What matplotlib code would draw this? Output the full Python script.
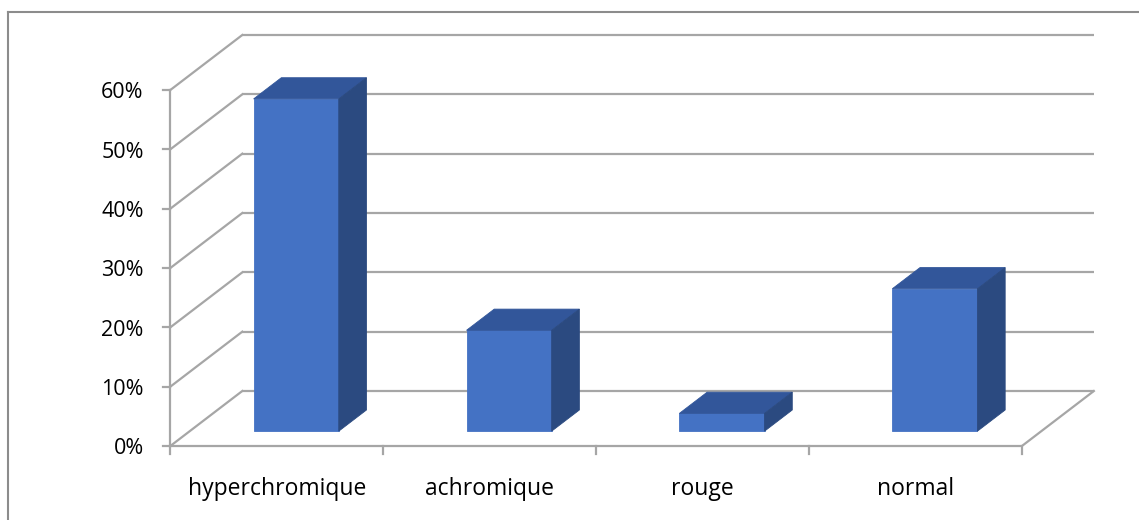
import matplotlib.pyplot as plt
from matplotlib.lines import Line2D

categories = ["hyperchromique", "achromique", "rouge", "normal"]
values = [56, 17, 3, 24]          # percent
y_ticks = [0, 10, 20, 30, 40, 50, 60]

# fake 3d: depth offset of the back wall, in data units
DX, DY = 0.338, 9.27
BAR_W = 0.4
D0, D1 = 0.27, 0.655              # depth span of the bars

GRID = '#a6a6a6'
FRONT, TOP, SIDE = '#4472c4', '#32569a', '#2b4a80'
FONT = 'Open Sans'


def proj(x, y, d):
    return x + d * DX, y + d * DY


fig = plt.figure(figsize=(11.39, 5.2), dpi=100)
ax = fig.add_axes([0, 0, 1, 1])
ax.set_xlim(-0.8, 4.55)
ax.set_ylim(-12.47, 75.17)
ax.axis('off')

n = len(categories)
ymax = y_ticks[-1]

# back wall gridlines + left wall diagonals
for t in y_ticks:
    x0, y0 = proj(0, t, 1)
    x1, y1 = proj(n, t, 1)
    ax.plot([x0, x1], [y0, y1], color=GRID, lw=1.6, solid_capstyle='butt', zorder=1)
    ax.plot([0, x0], [t, y0], color=GRID, lw=1.6, zorder=1)
    ax.plot([-0.033, 0], [t, t], color=GRID, lw=1.6, zorder=1)
    ax.text(-0.125, t - 0.5, f"{t}%", ha='right', va='center', fontsize=15.5,
            family=FONT, color='black')

# floor front edge, right edge, front y axis
xr, yr = proj(n, 0, 1)
ax.plot([0, n, xr], [0, 0, yr], color=GRID, lw=1.6, zorder=1)
ax.plot([0, 0], [0, ymax], color=GRID, lw=1.6, zorder=1)
for i in range(n + 1):
    ax.plot([i, i], [0, -1.3], color=GRID, lw=1.6, zorder=1)

# bars
for i, v in enumerate(values):
    xl = i + 0.5 - BAR_W / 2
    xh = i + 0.5 + BAR_W / 2
    front = [proj(xl, 0, D0), proj(xh, 0, D0), proj(xh, v, D0), proj(xl, v, D0)]
    top = [proj(xl, v, D0), proj(xh, v, D0), proj(xh, v, D1), proj(xl, v, D1)]
    side = [proj(xh, 0, D0), proj(xh, 0, D1), proj(xh, v, D1), proj(xh, v, D0)]
    for face, col in ((front, FRONT), (top, TOP), (side, SIDE)):
        xs, ys = zip(*face)
        ax.fill(xs, ys, color=col, lw=0.6, ec=col, zorder=3)
    ax.text(i + 0.5, -7.3, categories[i], ha='center', va='center',
            fontsize=16.5, family=FONT, color='black')

# chart frame
fx, fy = 8 / 1139, 1 - 12 / 520
fig.add_artist(Line2D([fx, 1], [fy, fy], color='#8c8c8c', lw=1.5))
fig.add_artist(Line2D([fx, fx], [0, fy], color='#8c8c8c', lw=1.5))

fig.savefig('out.png', dpi=100)
